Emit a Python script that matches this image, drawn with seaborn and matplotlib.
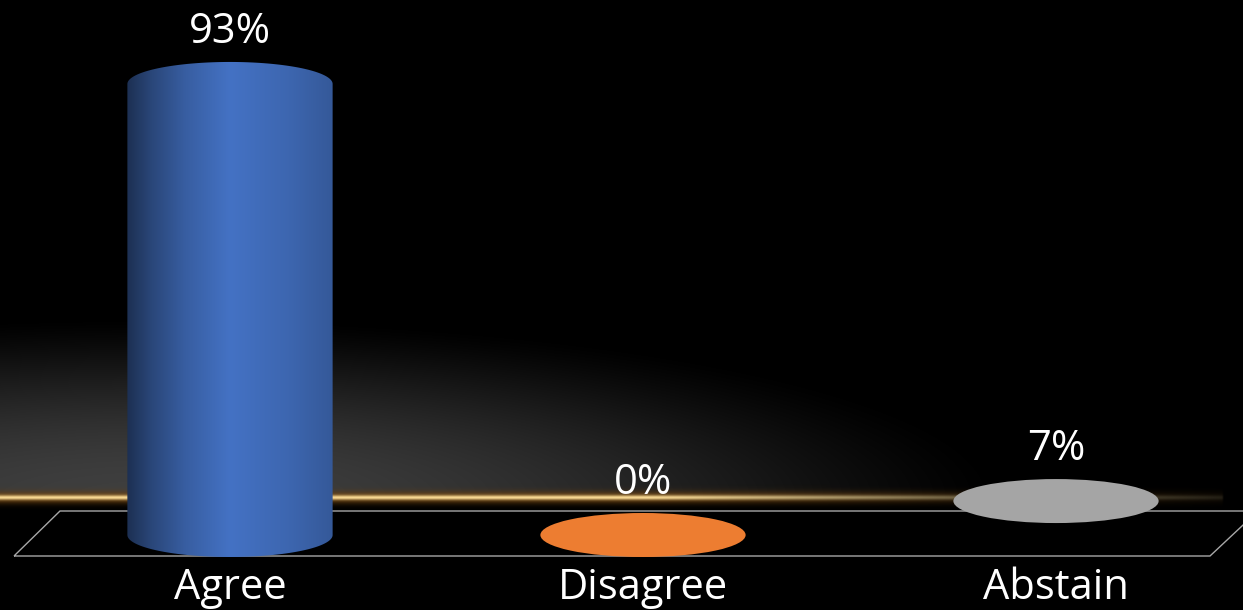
import numpy as np
import pandas as pd
import matplotlib
matplotlib.use("Agg")
import matplotlib.pyplot as plt
from matplotlib.patches import Ellipse, Polygon
from matplotlib.colors import to_rgb
import seaborn as sns

# Poll results
categories = ["Agree", "Disagree", "Abstain"]
values = [93, 0, 7]
value_labels = ["93%", "0%", "7%"]
colors = ["#4472C4", "#ED7D31", "#A5A5A5"]

sns.set_theme(style="dark")
plt.rcParams["font.family"] = ["Open Sans", "DejaVu Sans"]

W, H = 1243, 610
fig = plt.figure(figsize=(W / 100, H / 100), dpi=100, facecolor="black")

# ---------- backdrop: light haze, glowing horizon line, floor outline ----------
bg = fig.add_axes([0, 0, 1, 1], facecolor="black")
bg.set_xlim(0, W)
bg.set_ylim(H, 0)
bg.axis("off")

line_y = 497.5
xs = np.arange(W) + 0.5
ys = np.arange(H) + 0.5
X, Y = np.meshgrid(xs, ys)
r2 = ((X - 150) / 880) ** 2 + ((Y - line_y) / 185) ** 2
haze = np.clip(1 - r2, 0, 1) ** 1.5 * 0.25
haze[Y > line_y] = 0
img = np.zeros((H, W, 4))
img[..., 0:3] = 1.0
img[..., 3] = haze
bg.imshow(img, extent=(0, W, H, 0), interpolation="bilinear", zorder=1)

# golden horizon line
d = Y - line_y
hfade = np.interp(xs, [0, 650, 950, 1150, 1222, 1224], [1, 1, 0.45, 0.25, 0.14, 0])
core = np.exp(-(d / 2.6) ** 2)
glow = np.exp(-(d / 6.0) ** 2)
c_out = np.array(to_rgb("#6a400e"))
c_in = np.array(to_rgb("#f6d690"))
gl = np.zeros((H, W, 4))
gl[..., 0:3] = c_out * (1 - core[..., None]) + c_in * core[..., None]
gl[..., 3] = np.clip(glow * hfade[None, :], 0, 1)
bg.imshow(gl, extent=(0, W, H, 0), interpolation="bilinear", zorder=2)

# floor outline
floor = Polygon([(14, 556), (1210, 556), (1258, 511), (60, 511)], closed=True,
                fill=False, edgecolor="#a8a8a8", linewidth=1.0, zorder=3)
bg.add_patch(floor)

# ---------- bars as cylinders ----------
ax = fig.add_axes([0, 0, 1, 1])
ax.patch.set_alpha(0)
df = pd.DataFrame({"category": categories, "value": values})
sns.barplot(data=df, x="category", y="value", hue="category", palette=colors,
            width=0.497, legend=False, ax=ax)
# pixel layout: category 0 at x=230, spacing 413 px; 0% at y=535, 100% = 485 px
ax.set_xlim(-230 / 413, (W - 230) / 413)
ax.set_ylim(-(H - 535) / 4.85, 535 / 4.85)
ax.axis("off")

ry = 22 / 4.85  # ellipse half-depth in data units
shade_pos = [0.0, 0.12, 0.28, 0.5, 0.78, 1.0]
shade_mul = [0.42, 0.62, 0.82, 1.0, 0.9, 0.78]

for patch, val, lab, col in zip(ax.patches, values, value_labels, colors):
    x0 = patch.get_x()
    w = patch.get_width()
    h = patch.get_height()
    patch.set_visible(False)
    cx = x0 + w / 2
    rx = w / 2
    if h > 2 * ry:
        # outline: bottom half ellipse, right side, top half ellipse, left side
        t_b = np.linspace(np.pi, 2 * np.pi, 80)
        t_t = np.linspace(0, np.pi, 80)
        pts_b = np.column_stack([cx + rx * np.cos(t_b), 0 + ry * np.sin(t_b)])
        pts_t = np.column_stack([cx + rx * np.cos(t_t), h + ry * np.sin(t_t)])
        outline = Polygon(np.vstack([pts_b, pts_t]), closed=True,
                          facecolor="none", edgecolor="none")
        ax.add_patch(outline)
        base = np.array(to_rgb(col))
        u = np.linspace(0, 1, 256)
        mul = np.interp(u, shade_pos, shade_mul)
        grad = np.clip(base[None, :] * mul[:, None], 0, 1)[None, :, :]
        im = ax.imshow(grad, extent=(x0, x0 + w, -ry, h + ry), aspect="auto",
                       interpolation="bilinear", zorder=4)
        im.set_clip_path(outline)
    else:
        ax.add_patch(Ellipse((cx, h), 2 * rx, 2 * ry, facecolor=col,
                             edgecolor="none", zorder=4))
    ax.text(cx, h + ry + 19 / 4.85, lab, ha="center", va="baseline",
            color="white", fontsize=30, zorder=5)

for i, cat in enumerate(categories):
    ax.text(i, -(599 - 535) / 4.85, cat, ha="center", va="baseline",
            color="white", fontsize=30, zorder=5)

fig.savefig("out.png", dpi=100, facecolor="black")
